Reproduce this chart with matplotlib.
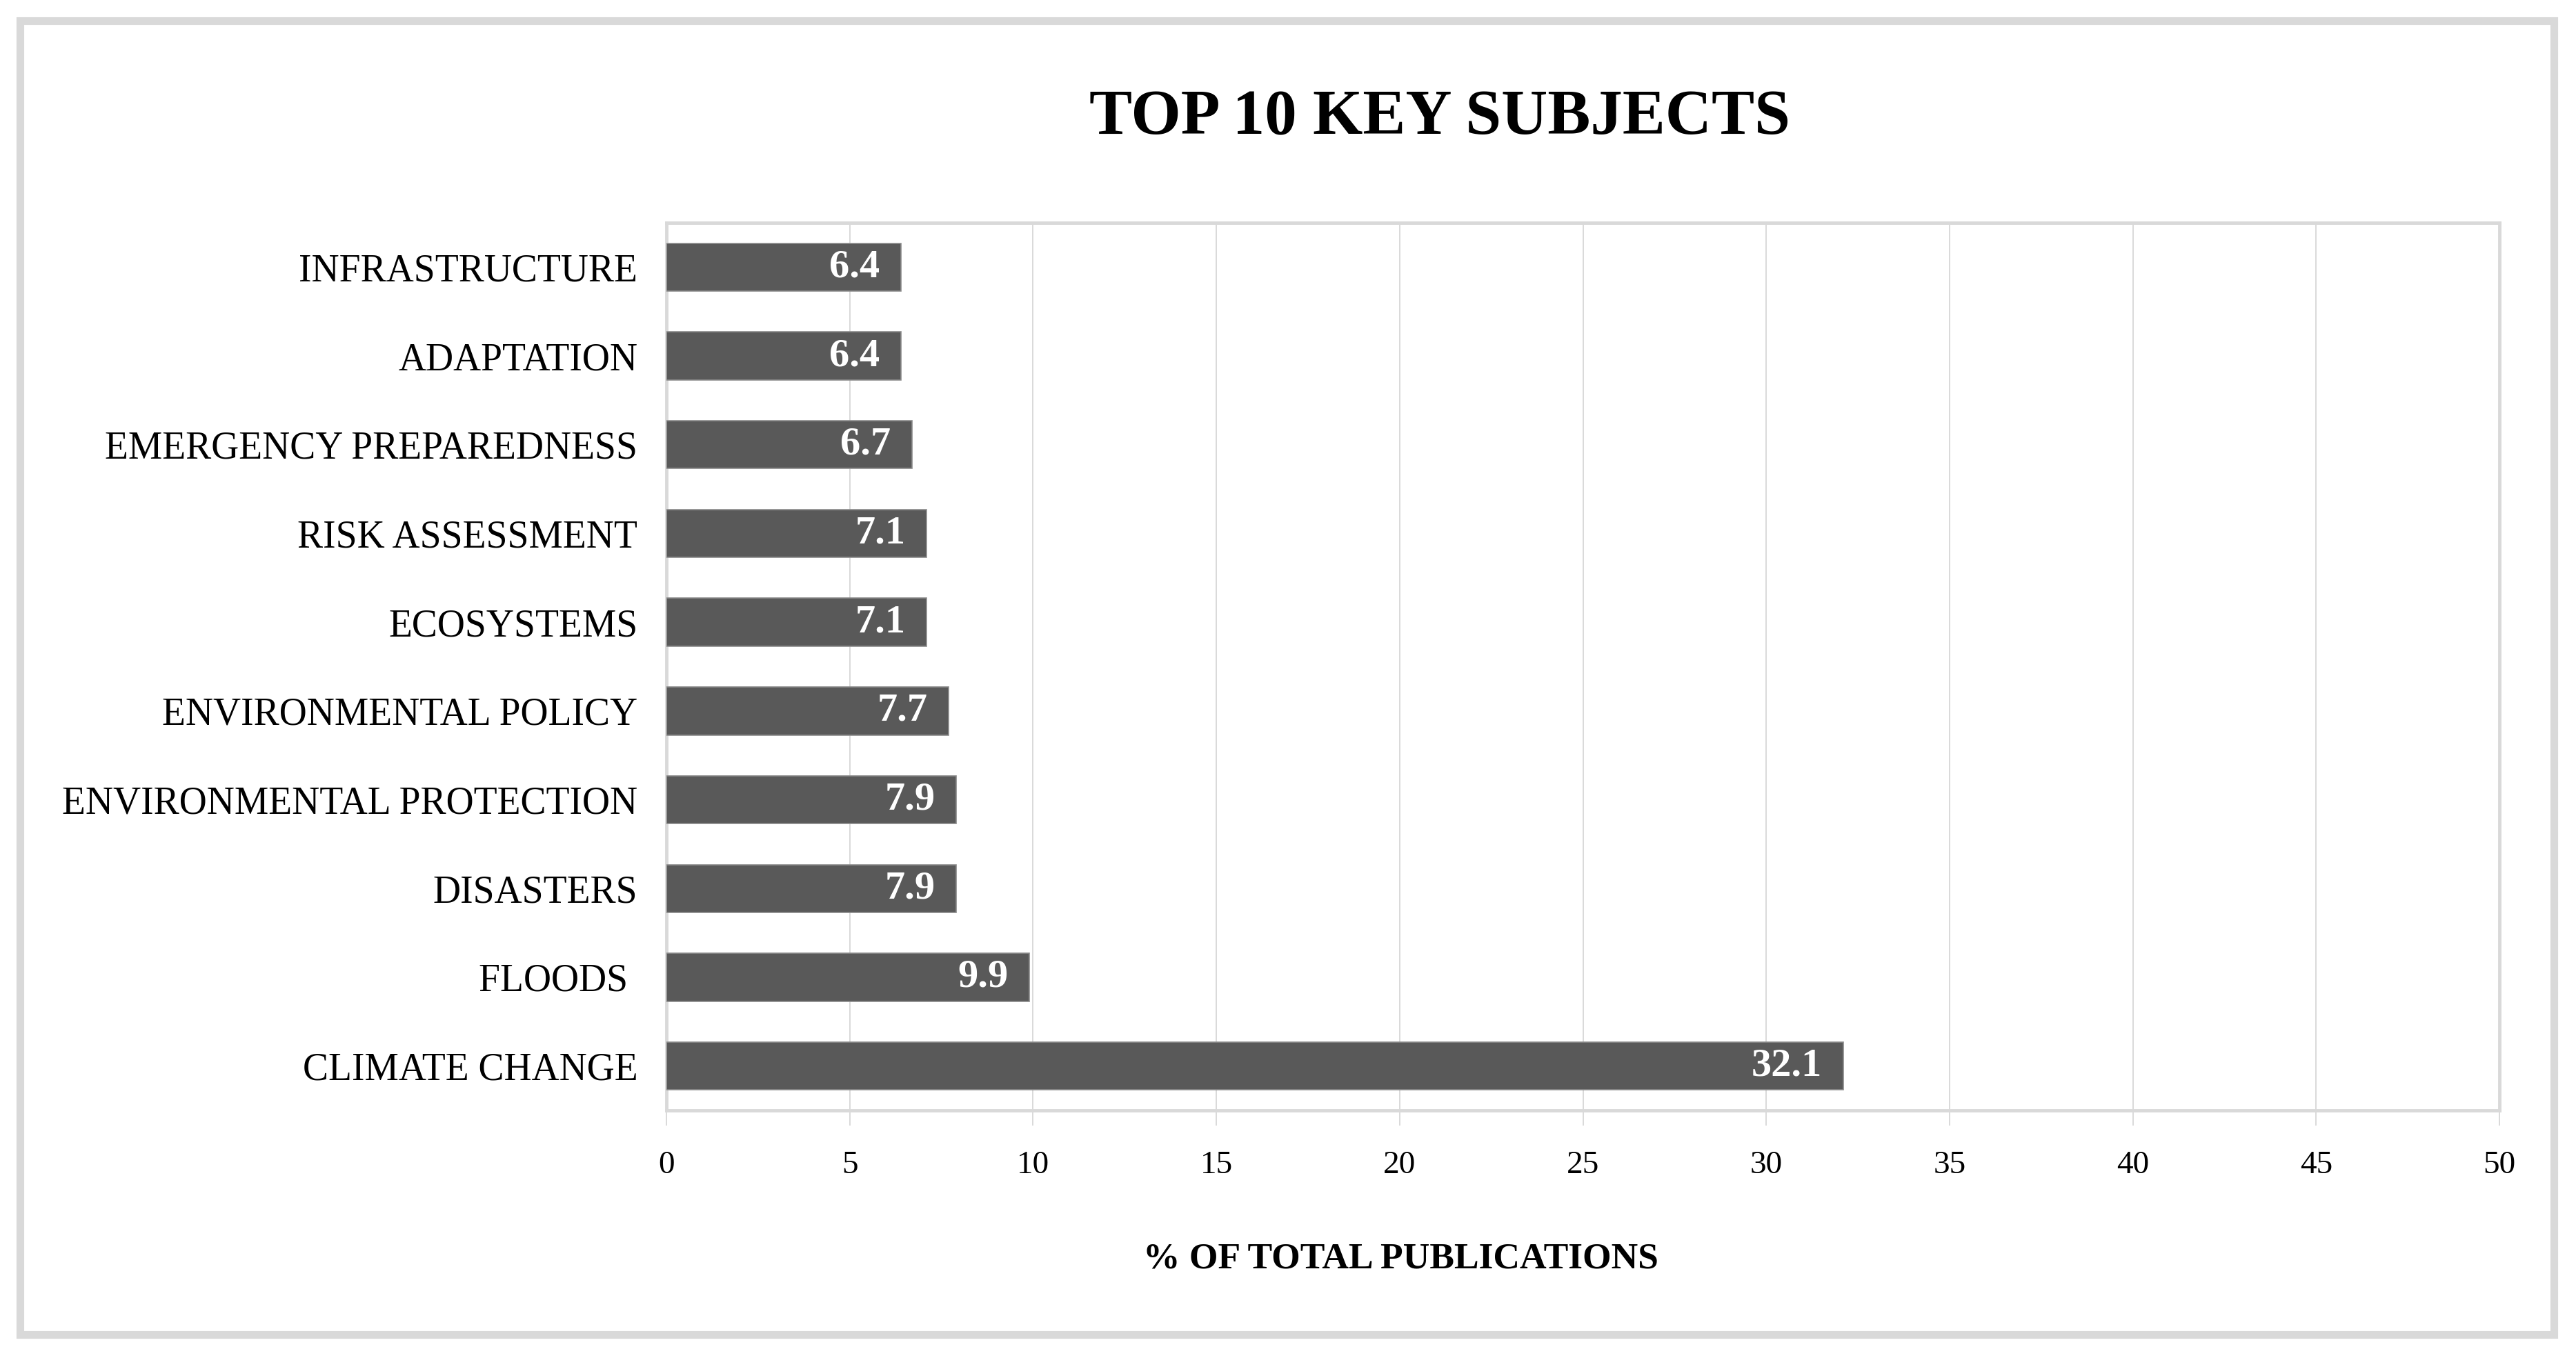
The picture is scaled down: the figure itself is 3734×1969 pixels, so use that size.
import matplotlib
matplotlib.use("Agg")
import matplotlib.pyplot as plt
from matplotlib.patches import Rectangle

plt.rcParams['font.family'] = ['Liberation Serif', 'DejaVu Serif']

# bottom to top, as barh draws them
subjects = ["CLIMATE CHANGE", "FLOODS ", "DISASTERS", "ENVIRONMENTAL PROTECTION",
            "ENVIRONMENTAL POLICY", "ECOSYSTEMS", "RISK ASSESSMENT",
            "EMERGENCY PREPAREDNESS", "ADAPTATION", "INFRASTRUCTURE"]
share = [32.1, 9.9, 7.9, 7.9, 7.7, 7.1, 7.1, 6.7, 6.4, 6.4]
xticks = list(range(0, 55, 5))

W, H = 3734, 1969
fig = plt.figure(figsize=(W / 100, H / 100), dpi=100)
ax = fig.add_axes([966 / W, 1 - 1610 / H, (3623 - 966) / W, (1610 - 323) / H])

grid_c = '#d9d9d9'
bars = ax.barh(subjects, share, height=0.54, color='#595959', edgecolor='#8a8a8a',
               linewidth=1.2, zorder=3)
for b, v in zip(bars, share):
    ax.annotate(f"{v:.1f}", (b.get_width(), b.get_y() + b.get_height() / 2),
                xytext=(-22, 0), textcoords='offset points', ha='right', va='center',
                color='white', fontsize=42, fontweight='bold', zorder=4)

ax.set_xlim(0, 50)
ax.set_ylim(-0.5, len(subjects) - 0.5)
ax.set_xticks(xticks)
ax.grid(axis='x', color=grid_c, linewidth=1.4, zorder=0)
ax.set_axisbelow(True)
for s in ax.spines.values():
    s.set_color(grid_c)
    s.set_linewidth(3.5)
ax.tick_params(axis='x', direction='out', length=16, width=1.4, color=grid_c,
               pad=26, labelsize=34)
ax.tick_params(axis='y', length=0, pad=30, labelsize=40)

fig.text(0.559, 1 - 172 / H, "TOP 10 KEY SUBJECTS", ha='center', va='center',
         fontsize=67, fontweight='bold')
fig.text(2030 / W, 1 - 1825 / H, "% OF TOTAL PUBLICATIONS", ha='center', va='center',
         fontsize=38.5, fontweight='bold')

# chart area frame
fig.patches.append(Rectangle((29 / W, 1 - 1935 / H), (3702 - 29) / W, (1935 - 30) / H,
                             transform=fig.transFigure, fill=False, ec=grid_c, lw=8))

fig.savefig("out.png", dpi=100)
